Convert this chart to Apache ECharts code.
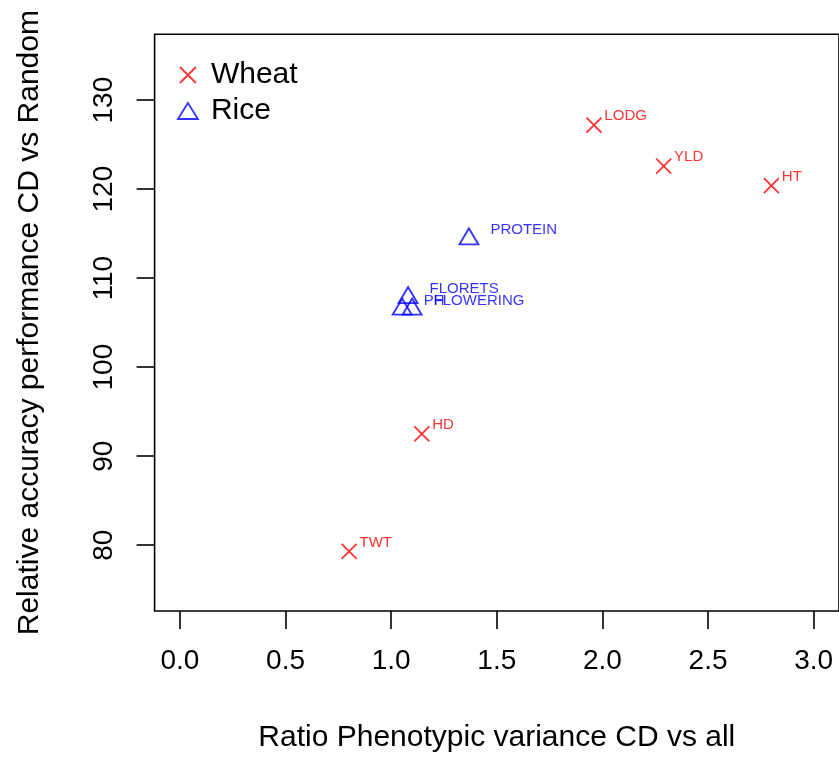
<!DOCTYPE html>
<html>
<head>
<meta charset="utf-8">
<script src="https://cdn.jsdelivr.net/npm/echarts@6/dist/echarts.min.js"></script>
<style>html,body{margin:0;padding:0;background:#fff;}#c{width:839px;height:758px;}</style>
</head>
<body>
<div id="c"></div>
<script>
var wheatNames = ['LODG', 'YLD', 'HT', 'HD', 'TWT'];
var wheatX = [1.96, 2.29, 2.80, 1.145, 0.801];
var wheatY = [127.2, 122.6, 120.4, 92.5, 79.3];

var riceNames = ['PROTEIN', 'FLORETS', 'PH', 'FLOWERING'];
var riceX = [1.368, 1.080, 1.052, 1.099];
var riceY = [114.7, 108.1, 106.8, 106.8];

var xTicks = [0, 0.5, 1, 1.5, 2, 2.5, 3];
var yTicks = [80, 90, 100, 110, 120, 130];

var FONT = "'Liberation Sans', Arial, Helvetica, sans-serif";
var CROSS = 'path://M0,0L10,10M10,0L0,10';

function pts(xs, ys, names) {
  return xs.map(function (x, i) { return { value: [x, ys[i]], name: names[i] }; });
}

var chart = echarts.init(document.getElementById('c'), null, { renderer: 'canvas' });
chart.setOption({
  backgroundColor: '#fff',
  animation: false,
  textStyle: { fontFamily: FONT },
  grid: {
    show: true, left: 154.6, right: -2.4, top: 34.3, bottom: 144.5,
    borderColor: '#000', borderWidth: 1.6, backgroundColor: 'transparent'
  },
  legend: {
    orient: 'vertical', left: 172, top: 55,
    itemWidth: 20, itemHeight: 16, itemGap: 6,
    textStyle: { fontFamily: FONT, fontSize: 30, color: '#000', padding: [0, 0, 0, 8] },
    data: [
      { name: 'Wheat', icon: CROSS, itemStyle: { color: 'transparent', borderColor: '#ff0000', borderWidth: 1.8 } },
      { name: 'Rice', icon: 'triangle', itemStyle: { color: 'transparent', borderColor: '#0000ff', borderWidth: 1.8 } }
    ]
  },
  xAxis: {
    type: 'value', min: -0.12, max: 3.12,
    name: 'Ratio Phenotypic variance CD vs all', nameLocation: 'middle', nameGap: 112,
    nameTextStyle: { fontFamily: FONT, fontSize: 30, color: '#000' },
    axisLine: { show: false, onZero: false },
    axisTick: { show: true, length: 18, lineStyle: { color: '#000', width: 1.6 }, customValues: xTicks },
    axisLabel: { fontFamily: FONT, fontSize: 28, color: '#000', margin: 36, customValues: xTicks,
      formatter: function (v) { return v.toFixed(1); } },
    splitLine: { show: false }
  },
  yAxis: {
    type: 'value', min: 72.6, max: 137.4,
    name: 'Relative accuracy performance CD vs Random', nameLocation: 'middle', nameGap: 110,
    nameRotate: 90,
    nameTextStyle: { fontFamily: FONT, fontSize: 30, color: '#000' },
    axisLine: { show: false, onZero: false },
    axisTick: { show: true, length: 18, lineStyle: { color: '#000', width: 1.6 }, customValues: yTicks },
    axisLabel: { fontFamily: FONT, fontSize: 28, color: '#000', margin: 36, rotate: 90, customValues: yTicks },
    splitLine: { show: false }
  },
  series: [
    {
      name: 'Wheat', type: 'scatter', symbol: CROSS, symbolSize: 15,
      itemStyle: { color: 'transparent', borderColor: '#ff0000', borderWidth: 1.8 },
      label: { show: true, position: 'right', distance: 2, offset: [0, -9],
        formatter: '{b}', fontFamily: FONT, fontSize: 15, color: '#ff0000' },
      emphasis: { disabled: true },
      data: pts(wheatX, wheatY, wheatNames)
    },
    {
      name: 'Rice', type: 'scatter', symbol: 'triangle', symbolSize: [19, 16],
      itemStyle: { color: 'transparent', borderColor: '#0000ff', borderWidth: 1.8 },
      label: { show: true, position: 'right', distance: 11, offset: [0, -6],
        formatter: '{b}', fontFamily: FONT, fontSize: 15, color: '#0000ff' },
      emphasis: { disabled: true },
      data: pts(riceX, riceY, riceNames)
    }
  ]
});
</script>
</body>
</html>
